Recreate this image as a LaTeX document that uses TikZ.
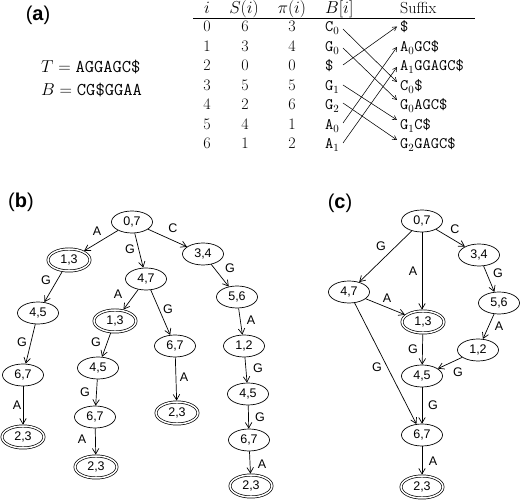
\documentclass[tikz,border=0pt]{standalone}
\usepackage{fontspec}
\newfontfamily\hv{Liberation Sans}
\usetikzlibrary{arrows.meta,shapes.geometric}
\newcommand\tsb[2]{\texttt{#1}$_{#2}$}
\begin{document}
\begin{tikzpicture}[x=1pt,y=-1pt,
  st/.style={draw, ellipse, minimum width=41pt, minimum height=22pt, inner sep=0pt,
    font=\hv\fontsize{12.5}{14}\selectfont, line width=0.7pt},
  fin/.style={st, double, double distance=1.5pt, minimum width=42pt, minimum height=22pt, outer sep=1.4pt},
  arr/.style={-{Straight Barb[length=5.5pt,width=6.5pt]}, line width=0.7pt},
  tarr/.style={-{Straight Barb[length=4pt,width=4.5pt]}, line width=0.55pt},
  lab/.style={font=\hv\fontsize{12.5}{14}\selectfont, inner sep=0pt},
  panel/.style={font=\hv\fontsize{20}{24}\selectfont, inner sep=0pt},
  tb/.style={font=\fontsize{16}{19}\selectfont, inner sep=0pt},
  eq/.style={font=\fontsize{18}{22}\selectfont, inner sep=0pt, anchor=base west}]
\path[use as bounding box, fill=white] (0,0) rectangle (520,502);

% ---------- (a) ----------
\node[panel] (pa) at (38,15) {({\bfseries a})};
\node[eq] (T) at (41,73) {$T={}$\texttt{AGGAGC\$}};
\node[eq] (B) at (41,96) {$B={}$\texttt{CG\$GGAA}};

\node[tb, anchor=base] (hi) at (207,14) {$i$};
\node[tb, anchor=base] (hs) at (244,14) {$S(i)$};
\node[tb, anchor=base] (hp) at (292,14) {$\pi(i)$};
\node[tb, anchor=base west] (hb) at (325,14) {$B[i]$};
\node[tb, anchor=base west] (hx) at (400,14) {Suffix};
\coordinate (r1) at (193,18.5);
\coordinate (r2) at (475,18.5);
\draw[line width=0.7pt] (r1) -- (r2);

\foreach \k/\s/\p in {0/6/3,1/3/4,2/0/0,3/5/5,4/2/6,5/4/1,6/1/2}{
  \node[tb, anchor=base] (i\k) at (207,{32+19.5*\k}) {\k};
  \node[tb, anchor=base] (s\k) at (245,{32+19.5*\k}) {\s};
  \node[tb, anchor=base] (p\k) at (292,{32+19.5*\k}) {\p};
}
\node[tb, anchor=base west] (bb0) at (325,32)   {\tsb{C}{0}};
\node[tb, anchor=base west] (bb1) at (325,51.5) {\tsb{G}{0}};
\node[tb, anchor=base west] (bb2) at (325,71)   {\texttt{\$}};
\node[tb, anchor=base west] (bb3) at (325,90.5) {\tsb{G}{1}};
\node[tb, anchor=base west] (bb4) at (325,110)  {\tsb{G}{2}};
\node[tb, anchor=base west] (bb5) at (325,129.5){\tsb{A}{0}};
\node[tb, anchor=base west] (bb6) at (325,149)  {\tsb{A}{1}};

\node[tb, anchor=base west] (sf0) at (400,32)   {\texttt{\$}};
\node[tb, anchor=base west] (sf1) at (400,51.5) {\tsb{A}{0}\texttt{GC\$}};
\node[tb, anchor=base west] (sf2) at (400,71)   {\tsb{A}{1}\texttt{GGAGC\$}};
\node[tb, anchor=base west] (sf3) at (400,90.5) {\tsb{C}{0}\texttt{\$}};
\node[tb, anchor=base west] (sf4) at (400,110)  {\tsb{G}{0}\texttt{AGC\$}};
\node[tb, anchor=base west] (sf5) at (400,129.5){\tsb{G}{1}\texttt{C\$}};
\node[tb, anchor=base west] (sf6) at (400,149)  {\tsb{G}{2}\texttt{GAGC\$}};

\coordinate (a0) at (343,29);  \coordinate (e3) at (397,82);
\coordinate (a1) at (343,48);  \coordinate (e4) at (397,100);
\coordinate (a2) at (343,65);  \coordinate (e0) at (397,26.5);
\coordinate (a3) at (343,85);  \coordinate (e5) at (397,120);
\coordinate (a4) at (343,103); \coordinate (e6) at (397,140);
\coordinate (a5) at (343,123); \coordinate (e1) at (397,47);
\coordinate (a6) at (343,143); \coordinate (e2) at (397,67);
\draw[tarr] (a0) -- (e3);
\draw[tarr] (a1) -- (e4);
\draw[tarr] (a2) -- (e0);
\draw[tarr] (a3) -- (e5);
\draw[tarr] (a4) -- (e6);
\draw[tarr] (a5) -- (e1);
\draw[tarr] (a6) -- (e2);

% ---------- (b) ----------
\node[panel] (pb) at (21,202) {({\bfseries b})};
\node[st]  (b07)  at (132,222) {0,7};
\node[fin] (b13)  at (69,260)  {1,3};
\node[st]  (b47)  at (146,279) {4,7};
\node[st]  (b34)  at (203,254) {3,4};
\node[st]  (b56)  at (237,297) {5,6};
\node[st]  (b45)  at (38,313)  {4,5};
\node[fin] (b13m) at (115,321) {1,3};
\node[st]  (b67)  at (23,375)  {6,7};
\node[fin] (b23)  at (23,437)  {2,3};
\node[st]  (b45m) at (98,368)  {4,5};
\node[st]  (b67m) at (95,417)  {6,7};
\node[fin] (b23m) at (96,467)  {2,3};
\node[st]  (b67b) at (175,346) {6,7};
\node[fin] (b23b) at (177,413) {2,3};
\node[st]  (b12)  at (244,346) {1,2};
\node[st]  (b45r) at (248,394) {4,5};
\node[st]  (b67r) at (249,440) {6,7};
\node[fin] (b23r) at (251,486) {2,3};

\draw[arr] (b07) -- (b13);
\draw[arr] (b07) -- (b47);
\draw[arr] (b07) -- (b34);
\draw[arr] (b13) -- (b45);
\draw[arr] (b45) -- (b67);
\draw[arr] (b67) -- (b23);
\draw[arr] (b47) -- (b13m);
\draw[arr] (b13m) -- (b45m);
\draw[arr] (b45m) -- (b67m);
\draw[arr] (b67m) -- (b23m);
\draw[arr] (b47) -- (b67b);
\draw[arr] (b67b) -- (b23b);
\draw[arr] (b34) -- (b56);
\draw[arr] (b56) -- (b12);
\draw[arr] (b12) -- (b45r);
\draw[arr] (b45r) -- (b67r);
\draw[arr] (b67r) -- (b23r);

\node[lab] (lb1)  at (97,231)  {A};
\node[lab] (lb2)  at (130,249) {G};
\node[lab] (lb3)  at (173,228) {C};
\node[lab] (lb4)  at (46,280)  {G};
\node[lab] (lb5)  at (22,342)  {G};
\node[lab] (lb6)  at (17,405)  {A};
\node[lab] (lb7)  at (118,294) {A};
\node[lab] (lb8)  at (96,342)  {G};
\node[lab] (lb9)  at (85,392)  {G};
\node[lab] (lb10) at (82,439)  {A};
\node[lab] (lb11) at (168,309) {G};
\node[lab] (lb12) at (184,377) {A};
\node[lab] (lb13) at (230,268) {G};
\node[lab] (lb14) at (251,320) {A};
\node[lab] (lb15) at (258,368) {G};
\node[lab] (lb16) at (260,417) {G};
\node[lab] (lb17) at (262,464) {A};

% ---------- (c) ----------
\node[panel] (pc) at (340,203) {({\bfseries c})};
\node[st]  (c07) at (422,221) {0,7};
\node[st]  (c34) at (479,255) {3,4};
\node[st]  (c47) at (349,292) {4,7};
\node[st]  (c56) at (499,303) {5,6};
\node[fin] (c13) at (423,322) {1,3};
\node[st]  (c12) at (478,350) {1,2};
\node[st]  (c45) at (422,376) {4,5};
\node[st]  (c67) at (422,435) {6,7};
\node[fin] (c23) at (422,487) {2,3};

\draw[arr] (c07) -- (c47);
\draw[arr] (c07) -- (c07 |- c13.north);
\draw[arr] (c07) -- (c34);
\draw[arr] (c34) -- (c56);
\draw[arr] (c47) -- (c13);
\draw[arr] (c56) -- (c12);
\draw[arr] (c13) -- (c45);
\draw[arr] (c12) -- (c45);
\draw[arr] (c45) -- (c67);
\draw[arr] (c47) -- (c67);
\draw[arr] (c67) -- (c23);

\node[lab] (lc1)  at (381,246) {G};
\node[lab] (lc2)  at (455,229) {C};
\node[lab] (lc3)  at (413,271) {A};
\node[lab] (lc4)  at (498,273) {G};
\node[lab] (lc5)  at (387,298) {A};
\node[lab] (lc6)  at (499,326) {A};
\node[lab] (lc7)  at (413,349) {G};
\node[lab] (lc8)  at (458,372) {G};
\node[lab] (lc9)  at (433,405) {G};
\node[lab] (lc10) at (377,367) {G};
\node[lab] (lc11) at (433,461) {A};
\end{tikzpicture}
\end{document}
